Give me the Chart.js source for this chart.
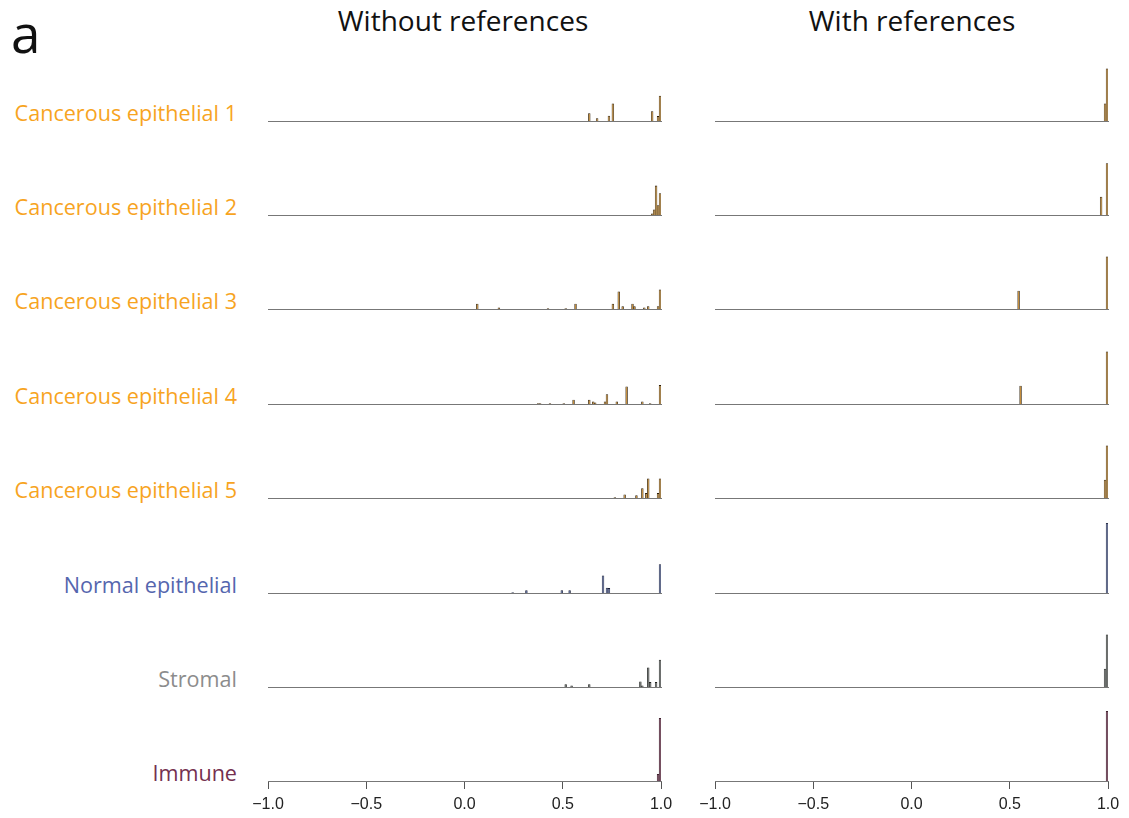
<!DOCTYPE html>
<html>
<head>
<meta charset="utf-8">
<title>Correlation histograms</title>
<script src="https://cdn.jsdelivr.net/npm/chart.js@4.4.1/dist/chart.umd.min.js"></script>
<style>
 body { margin: 0; background: #fff; font-family: "Open Sans", sans-serif; }
 #page { position: relative; width: 1129px; height: 818px; overflow: hidden; }
 .title { position: absolute; top: 1px; font-size: 28px; color: #111; transform: translateX(-50%); white-space: nowrap; }
 .panel { position: absolute; left: 11px; top: 6px; font-size: 53px; line-height: 1; color: #111; }
 .rowLabel { position: absolute; right: 892px; font-size: 21.6px; white-space: nowrap; transform: translateY(-50%); }
 canvas { position: absolute; }
</style>
</head>
<body>
<div id="page">
 <div class="panel">a</div>
</div>
<script>
'use strict';

/*
Data
*/

// histogram bins: 200 bins of width 0.01 between -1 and 1
const binStart = -1
const binWidth = 0.01
const binCount = 200

// x axis ticks shared by every panel
const tickValues = [-1, -0.5, 0, 0.5, 1]
const tickLabels = ['\u22121.0', '\u22120.5', '0.0', '0.5', '1.0']

const columnTitles = ['Without references', 'With references']
const cellTypes = [
 'Cancerous epithelial 1',
 'Cancerous epithelial 2',
 'Cancerous epithelial 3',
 'Cancerous epithelial 4',
 'Cancerous epithelial 5',
 'Normal epithelial',
 'Stromal',
 'Immune'
]

// fraction of cells in each bin, as [bin start, fraction]
const withoutCancer1 = [[0.63, 0.11], [0.67, 0.04], [0.73, 0.075], [0.75, 0.25], [0.95, 0.14], [0.98, 0.07], [0.99, 0.36]]
const withoutCancer2 = [[0.95, 0.02], [0.96, 0.08], [0.97, 0.42], [0.98, 0.14], [0.99, 0.31]]
const withoutCancer3 = [[0.06, 0.076], [0.17, 0.02], [0.42, 0.01], [0.51, 0.01], [0.56, 0.076], [0.75, 0.076], [0.78, 0.25],
 [0.80, 0.04], [0.85, 0.076], [0.86, 0.04], [0.91, 0.02], [0.93, 0.04], [0.98, 0.04], [0.99, 0.28]]
const withoutCancer4 = [[0.37, 0.01], [0.38, 0.01], [0.43, 0.01], [0.50, 0.01], [0.55, 0.06], [0.63, 0.06], [0.65, 0.035],
 [0.66, 0.02], [0.71, 0.035], [0.72, 0.14], [0.77, 0.035], [0.82, 0.25], [0.90, 0.035], [0.94, 0.01], [0.99, 0.27]]
const withoutCancer5 = [[0.76, 0.01], [0.81, 0.05], [0.87, 0.04], [0.90, 0.14], [0.92, 0.07], [0.93, 0.28], [0.98, 0.07], [0.99, 0.28]]
const withoutNormal = [[0.24, 0.01], [0.31, 0.04], [0.49, 0.04], [0.53, 0.04], [0.70, 0.25], [0.72, 0.075], [0.73, 0.07], [0.99, 0.41]]
const withoutStromal = [[0.51, 0.04], [0.54, 0.02], [0.63, 0.04], [0.89, 0.08], [0.90, 0.02], [0.93, 0.28], [0.94, 0.07], [0.97, 0.07], [0.99, 0.39]]
const withoutImmune = [[0.98, 0.10], [0.99, 0.90]]

const withCancer1 = [[0.98, 0.25], [0.99, 0.75]]
const withCancer2 = [[0.96, 0.26], [0.99, 0.74]]
const withCancer3 = [[0.54, 0.26], [0.99, 0.75]]
const withCancer4 = [[0.55, 0.26], [0.99, 0.75]]
const withCancer5 = [[0.98, 0.26], [0.99, 0.75]]
const withNormal = [[0.99, 1.0]]
const withStromal = [[0.98, 0.26], [0.99, 0.75]]
const withImmune = [[0.99, 1.0]]

const withoutRefs = [withoutCancer1, withoutCancer2, withoutCancer3, withoutCancer4, withoutCancer5, withoutNormal, withoutStromal, withoutImmune]
const withRefs = [withCancer1, withCancer2, withCancer3, withCancer4, withCancer5, withNormal, withStromal, withImmune]

/*
Styles and layout
*/

const orange = '#F7A41F'
const labelColors = [orange, orange, orange, orange, orange, '#5566AE', '#8C8C8C', '#74304F']
const cancerFill = '#C0801F'
const cancerEdge = '#2E1F0A'
const barFills = [cancerFill, cancerFill, cancerFill, cancerFill, cancerFill, '#42528A', '#555957', '#62223F']
const barEdges = [cancerEdge, cancerEdge, cancerEdge, cancerEdge, cancerEdge, '#161C33', '#1E201E', '#250A15']

const rowBaselines = [121, 215, 309, 404, 498, 593, 687, 781]
const columnLeft = [268, 715]
const columnCenter = [463, 912]
const plotWidth = 393
const plotHeight = 70
const sidePad = 22

const page = document.getElementById('page')

// one category per bin, named by the bin's start
const binLabels = Array.from({ length: binCount }, (_, i) => (binStart + i * binWidth).toFixed(2))

/**
 * Function to spread [bin start, fraction] pairs over all bins
 * @param {Array} pairs list of [bin start, fraction]
 * @return {Array} one value (or null) per bin
 */
const makeBins = (pairs) => {
 const bins = new Array(binCount).fill(null)
 pairs.forEach(([start, frac]) => {
  bins[Math.round((start - binStart) / binWidth)] = frac
 })
 return bins
}

/**
 * Function to create one small histogram
 * @param {Array} pairs data of the panel
 * @param {Number} colIndex 0 = without references, 1 = with references
 * @param {Number} rowIndex cell type row
 */
const createHistogram = (pairs, colIndex, rowIndex) => {
 const isLast = rowIndex === cellTypes.length - 1
 const axisHeight = isLast ? 36 : 0
 const canvas = document.createElement('canvas')
 canvas.width = plotWidth + sidePad * 2
 canvas.height = 4 + plotHeight + axisHeight + 2
 canvas.style.left = (columnLeft[colIndex] - sidePad) + 'px'
 canvas.style.top = (rowBaselines[rowIndex] - plotHeight - 4) + 'px'
 page.appendChild(canvas)

 new Chart(canvas, {
  type: 'bar',
  data: {
   labels: binLabels,
   datasets: [{
    data: makeBins(pairs),
    backgroundColor: barFills[rowIndex],
    borderColor: barEdges[rowIndex],
    borderWidth: 0.8,
    barPercentage: 1.25,
    categoryPercentage: 1,
    xAxisID: 'x',
    yAxisID: 'y'
   }]
  },
  options: {
   responsive: false,
   animation: false,
   events: [],
   layout: { padding: { left: sidePad, right: sidePad, top: 4, bottom: 2 } },
   plugins: { legend: { display: false }, tooltip: { enabled: false } },
   scales: {
    x: { display: false, offset: true },
    // plain numeric axis for the -1..1 ticks, no bar offset
    xAxis: {
     type: 'linear',
     position: 'bottom',
     min: -1,
     max: 1,
     offset: false,
     afterBuildTicks: axis => { axis.ticks = tickValues.map(v => ({ value: v })) },
     afterFit: axis => { axis.height = axisHeight },
     ticks: {
      display: isLast,
      padding: 6,
      color: '#222',
      font: { family: 'Liberation Sans', size: 16 },
      callback: v => tickLabels[tickValues.indexOf(v)]
     },
     grid: { display: isLast, offset: false, drawOnChartArea: false, tickLength: 8, color: '#555', lineWidth: 1 },
     border: { display: true, color: '#777', width: 1 }
    },
    y: { display: false, min: 0, max: 1 }
   }
  }
 })
}

/*
Build the page
*/

columnTitles.forEach((title, i) => {
 const el = document.createElement('div')
 el.className = 'title'
 el.style.left = columnCenter[i] + 'px'
 el.innerText = title
 page.appendChild(el)
})

cellTypes.forEach((name, r) => {
 const el = document.createElement('div')
 el.className = 'rowLabel'
 el.style.top = (rowBaselines[r] - 9) + 'px'
 el.style.color = labelColors[r]
 el.innerText = name
 page.appendChild(el)

 createHistogram(withoutRefs[r], 0, r)
 createHistogram(withRefs[r], 1, r)
})
</script>
</body>
</html>
